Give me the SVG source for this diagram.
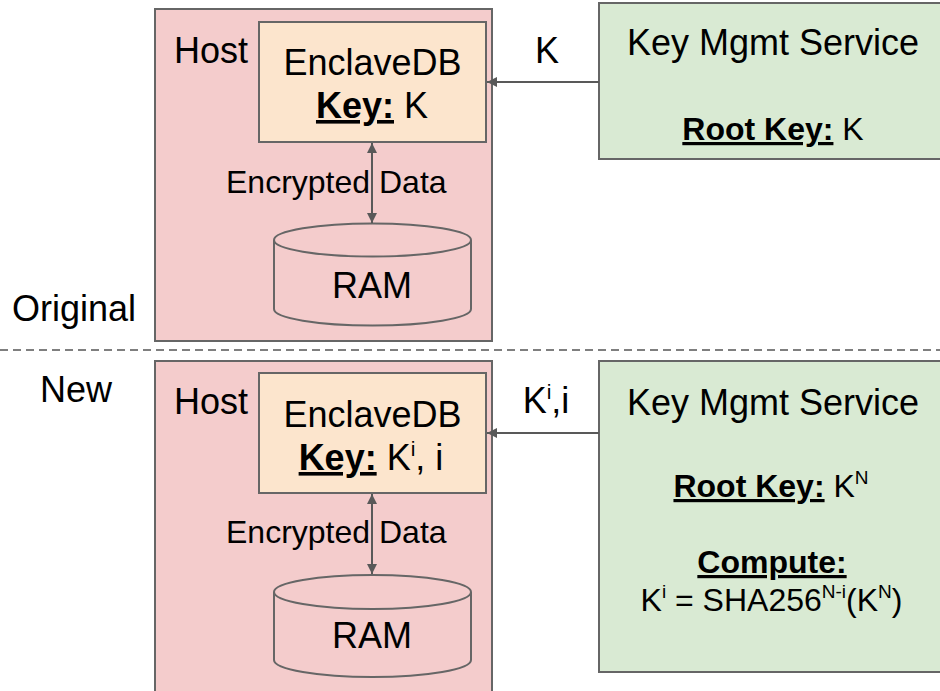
<svg xmlns="http://www.w3.org/2000/svg" width="940" height="691" viewBox="0 0 940 691">
  <style>
    text { font-family: "Liberation Sans", Arial, sans-serif; fill: #000000; }
    .big { font-size: 36px; }
    .mid { font-size: 32px; }
    .host { fill: #f4cccc; stroke: #666666; stroke-width: 2; }
    .enclave { fill: #fce5cd; stroke: #666666; stroke-width: 2; }
    .kms { fill: #d9ead3; stroke: #666666; stroke-width: 2; }
    .cyl { fill: #f4cccc; stroke: #666666; stroke-width: 2; }
    .conn { stroke: #595959; stroke-width: 2; fill: none; }
    .b { font-weight: bold; text-decoration: underline; }
  </style>
  <defs>
    <marker id="arrow" markerUnits="userSpaceOnUse" viewBox="0 0 10 10" refX="10" refY="5" markerWidth="10" markerHeight="10" orient="auto-start-reverse">
      <path d="M0,0 L10,5 L0,10 z" fill="#595959"/>
    </marker>
  </defs>

  <rect width="940" height="691" fill="#ffffff"/>

  <!-- section labels and divider -->
  <g id="labels">
    <text class="big" x="12" y="321">Original</text>
    <text class="big" x="40" y="402">New</text>
    <line x1="0" y1="350" x2="940" y2="350" stroke="#7f7f7f" stroke-width="2" stroke-dasharray="8 5"/>
  </g>

  <!-- original layout -->
  <g id="host-original">
    <rect class="host" x="155" y="9" width="337" height="332"/>
    <text class="big" x="174" y="63">Host</text>
  </g>
  <g id="enclavedb-original">
    <rect class="enclave" x="259" y="22" width="227" height="120"/>
    <text class="big" x="372.5" y="75" text-anchor="middle">EnclaveDB</text>
    <text class="big" x="372" y="118" text-anchor="middle"><tspan class="b">Key:</tspan> K</text>
  </g>
  <g id="ram-original">
    <path class="cyl" d="M274,240 L274,309 A98.5,16.5 0 0 0 471,309 L471,240 A98.5,16.5 0 0 0 274,240 A98.5,16.5 0 0 0 471,240"/>
    <text class="big" x="372" y="298" text-anchor="middle">RAM</text>
  </g>
  <g id="kms-original">
    <rect class="kms" x="599" y="3" width="350" height="156"/>
    <text class="big" x="773" y="55" text-anchor="middle">Key Mgmt Service</text>
    <text class="mid" x="773" y="140" text-anchor="middle"><tspan class="b">Root Key:</tspan> K</text>
  </g>

  <!-- new layout -->
  <g id="host-new">
    <rect class="host" x="155" y="361" width="337" height="340"/>
    <text class="big" x="174" y="414">Host</text>
  </g>
  <g id="enclavedb-new">
    <rect class="enclave" x="259" y="373" width="227" height="120"/>
    <text class="big" x="372.5" y="427" text-anchor="middle">EnclaveDB</text>
    <text class="big" x="371" y="470" text-anchor="middle"><tspan class="b">Key:</tspan> K<tspan font-size="21" dy="-14">i</tspan><tspan dy="14">, i</tspan></text>
  </g>
  <g id="ram-new">
    <path class="cyl" d="M274,592 L274,660 A98.5,17 0 0 0 471,660 L471,592 A98.5,17 0 0 0 274,592 A98.5,17 0 0 0 471,592"/>
    <text class="big" x="372" y="648" text-anchor="middle">RAM</text>
  </g>
  <g id="kms-new">
    <rect class="kms" x="599" y="361" width="350" height="311"/>
    <text class="big" x="773" y="415" text-anchor="middle">Key Mgmt Service</text>
    <text class="mid" x="771" y="497" text-anchor="middle"><tspan class="b">Root Key:</tspan> K<tspan font-size="19" dy="-13">N</tspan></text>
    <text class="mid" x="772" y="573" text-anchor="middle"><tspan class="b">Compute:</tspan></text>
    <text class="mid" x="771.5" y="611" text-anchor="middle">K<tspan font-size="19" dy="-13">i</tspan><tspan dy="13"> = SHA256</tspan><tspan font-size="19" dy="-13">N-i</tspan><tspan dy="13">(K</tspan><tspan font-size="19" dy="-13">N</tspan><tspan dy="13">)</tspan></text>
  </g>

  <!-- connectors -->
  <g id="connectors">
    <line class="conn" x1="599" y1="82" x2="487" y2="82" marker-end="url(#arrow)"/>
    <text class="big" x="547" y="63" text-anchor="middle">K</text>
    <line class="conn" x1="372" y1="143" x2="372" y2="223" marker-start="url(#arrow)" marker-end="url(#arrow)"/>
    <text class="mid" x="226" y="193">Encrypted Data</text>

    <line class="conn" x1="599" y1="433" x2="487" y2="433" marker-end="url(#arrow)"/>
    <text class="big" x="546" y="413" text-anchor="middle">K<tspan font-size="21" dy="-14">i</tspan><tspan dy="14">,i</tspan></text>
    <line class="conn" x1="372" y1="494" x2="372" y2="574" marker-start="url(#arrow)" marker-end="url(#arrow)"/>
    <text class="mid" x="226" y="543">Encrypted Data</text>
  </g>
</svg>
